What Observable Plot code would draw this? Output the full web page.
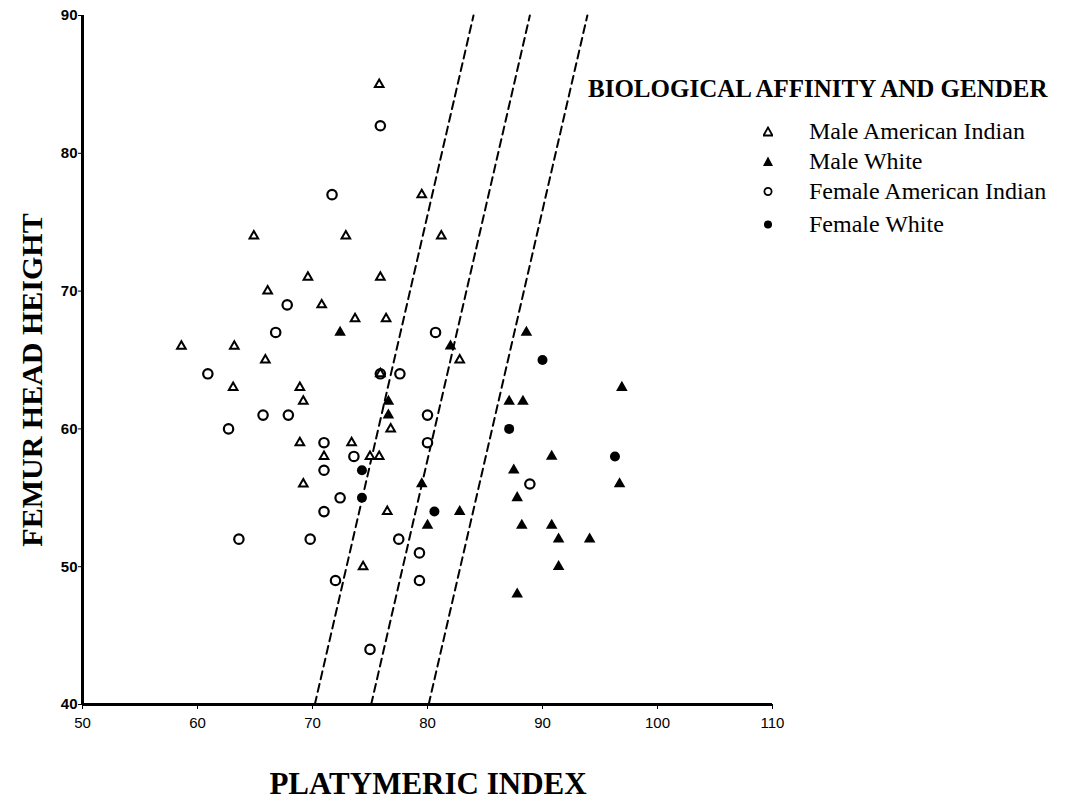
<!DOCTYPE html>
<html><head><meta charset="utf-8">
<script src="https://cdn.jsdelivr.net/npm/d3@7"></script>
<script src="https://cdn.jsdelivr.net/npm/@observablehq/plot@0.6"></script>
<style>
body{margin:0;background:#fff;}
#wrap{position:relative;width:1072px;height:803px;overflow:hidden;}
.serif{position:absolute;font-family:"Liberation Serif","Times New Roman",serif;color:#000;white-space:nowrap;}
#xt{left:0;width:856px;text-align:center;top:766px;font-size:31px;font-weight:bold;}
#yt{left:32px;top:380px;font-size:30px;font-weight:bold;transform:translate(-50%,-50%) rotate(-90deg);}
#lt{left:588px;top:75px;font-size:25px;font-weight:bold;}
.li{position:absolute;left:763px;font-family:"Liberation Serif","Times New Roman",serif;font-size:24px;white-space:nowrap;display:flex;align-items:center;}
.li svg{margin-right:36px;}
</style></head>
<body>
<div id="wrap"></div>
<script>
// Series data (platymeric index, femur head height)
const maleAmIndX = [75.8,79.5,64.9,72.9,81.2,69.6,75.9,66.1,70.8,73.7,76.4,58.6,63.2,65.9,75.9,63.1,68.9,69.2,76.8,68.9,73.4,71.0,75.0,75.8,69.2,76.5,74.4,82.8];
const maleAmIndY = [85,77,74,74,74,71,71,70,69,68,68,66,66,65,64,63,63,62,60,59,59,58,58,58,56,54,50,65];
const maleWhiteX = [72.4,82.0,76.6,76.6,79.5,80.0,88.6,96.9,87.1,88.3,90.8,87.5,96.7,87.8,82.8,88.2,90.8,91.4,94.1,91.4,87.8];
const maleWhiteY = [67,66,62,61,56,53,67,63,62,62,58,57,56,55,54,53,53,52,52,50,48];
const femAmIndX = [75.9,71.7,67.8,66.8,80.7,60.9,75.9,77.6,65.7,67.9,80.0,62.7,71.0,80.0,73.6,71.0,72.4,71.0,63.6,69.8,77.5,79.3,72.0,79.3,75.0,88.9];
const femAmIndY = [82,77,69,67,67,64,64,64,61,61,61,60,59,59,58,57,55,54,52,52,52,51,49,49,44,56];
const femWhiteX = [74.3,74.3,80.6,90.0,87.1,96.3];
const femWhiteY = [57,55,54,65,60,58];
// Dashed reference lines: x at bottom (y=40) and at top (y=90)
const lineBottomX = [70.2,75.1,80.1];
const lineTopX = [84.0,88.9,93.9];
const xTicks = [50,60,70,80,90,100,110];
const yTicks = [40,50,60,70,80,90];
const legendTitle = "BIOLOGICAL AFFINITY AND GENDER";
const legendLabels = ["Male American Indian","Male White","Female American Indian","Female White"];

const pts = (xs, ys) => xs.map((x,i)=>({x, y: ys[i]}));
const lines = lineBottomX.flatMap((x0,i)=>[{x:x0,y:40,id:i},{x:lineTopX[i],y:90,id:i}]);

const chart = Plot.plot({
  width: 1072, height: 803,
  marginLeft: 82, marginRight: 300, marginTop: 15, marginBottom: 99,
  style: {fontFamily: "'Liberation Sans', Arial, sans-serif", background: "white", color: "black"},
  x: {domain: [50,110]},
  y: {domain: [40,90]},
  marks: [
    Plot.axisY({ticks: yTicks, tickSize: 4, tickPadding: 1, fontSize: 15, fontWeight: "bold", label: null}),
    Plot.axisX({ticks: xTicks, tickSize: 5, tickPadding: 8, fontSize: 15, label: null}),
    Plot.line(lines, {x:"x", y:"y", z:"id", stroke:"black", strokeWidth:2, strokeDasharray:"8,5"}),
    Plot.dot(pts(femAmIndX, femAmIndY), {x:"x", y:"y", r:4.7, stroke:"black", strokeWidth:2.2, fill:"white"}),
    Plot.dot(pts(maleAmIndX, maleAmIndY), {x:"x", y:"y", symbol:"triangle", r:3.2, stroke:"black", strokeWidth:2, fill:"white"}),
    Plot.dot(pts(maleWhiteX, maleWhiteY), {x:"x", y:"y", symbol:"triangle", r:4.3, fill:"black"}),
    Plot.dot(pts(femWhiteX, femWhiteY), {x:"x", y:"y", r:5, fill:"black"}),
    Plot.ruleX([50], {stroke:"black", strokeWidth:3}),
    Plot.ruleY([40], {stroke:"black", strokeWidth:3})
  ]
});
const wrap = document.getElementById("wrap");
wrap.appendChild(chart);

function addDiv(cls, id, text){ const d=document.createElement("div"); d.className=cls; if(id) d.id=id; d.textContent=text; wrap.appendChild(d); return d; }
addDiv("serif","xt","PLATYMERIC INDEX");
addDiv("serif","yt","FEMUR HEAD HEIGHT");
addDiv("serif","lt",legendTitle);

const legendSymbols = [
  '<polygon points="5,1.5 9.5,9.5 0.5,9.5" fill="white" stroke="black" stroke-width="1.8"/>',
  '<polygon points="5,0.5 10,10 0,10" fill="black"/>',
  '<circle cx="5" cy="5.5" r="3.6" fill="white" stroke="black" stroke-width="1.8"/>',
  '<circle cx="5" cy="5.5" r="4" fill="black"/>'
];
const legendTops = [118, 148, 178, 211];
legendLabels.forEach((lab,i)=>{
  const d=document.createElement("div"); d.className="li"; d.style.top=legendTops[i]+"px";
  d.innerHTML='<svg width="10" height="11" viewBox="0 0 10 11">'+legendSymbols[i]+'</svg>';
  const s=document.createElement("span"); s.textContent=lab; d.appendChild(s);
  wrap.appendChild(d);
});
</script>
</body></html>
